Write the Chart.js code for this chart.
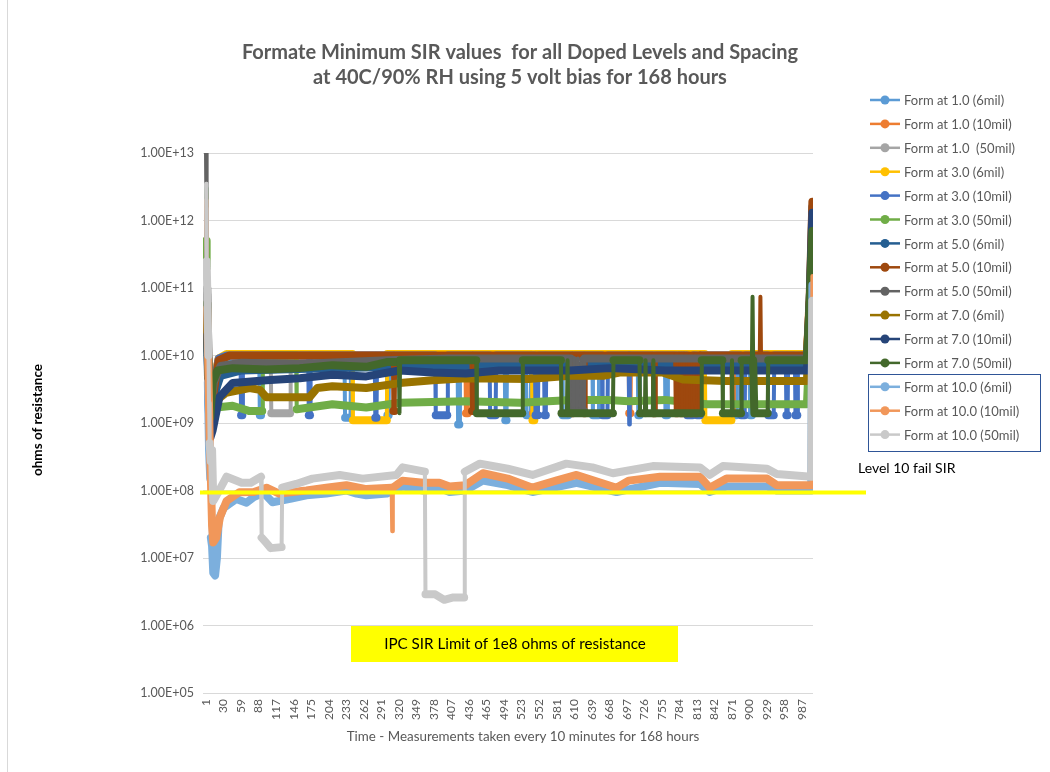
<!DOCTYPE html>
<html>
<head>
<meta charset="utf-8">
<script src="https://cdn.jsdelivr.net/npm/chart.js@4/dist/chart.umd.min.js"></script>
<style>
  body { margin: 0; background: #fff; }
  #wrap { width: 1050px; height: 772px; position: relative; }
</style>
</head>
<body>
<div id="wrap"><canvas id="sirChart" width="1050" height="772"></canvas></div>
<script>
// tick labels
const xTicks = [1, 30, 59, 88, 117, 146, 175, 204, 233, 262, 291, 320, 349, 378, 407, 436, 465, 494,
    523, 552, 581, 610, 639, 668, 697, 726, 755, 784, 813, 842, 871, 900, 929, 958, 987];
const yTicks = [1e5, 1e6, 1e7, 1e8, 1e9, 1e10, 1e11, 1e12, 1e13];
const ipcLimit = [1e8];

const seriesNames = ['Form at 1.0 (6mil)', 'Form at 1.0 (10mil)', 'Form at 1.0  (50mil)',
    'Form at 3.0 (6mil)', 'Form at 3.0 (10mil)', 'Form at 3.0 (50mil)',
    'Form at 5.0 (6mil)', 'Form at 5.0 (10mil)', 'Form at 5.0 (50mil)',
    'Form at 7.0 (6mil)', 'Form at 7.0 (10mil)', 'Form at 7.0 (50mil)',
    'Form at 10.0 (6mil)', 'Form at 10.0 (10mil)', 'Form at 10.0 (50mil)'];
const seriesColors = ['#5B9BD5', '#ED7D31', '#A5A5A5', '#FFC000', '#4472C4', '#70AD47',
    '#255E91', '#9E480E', '#636363', '#997300', '#264478', '#43682B',
    '#7CAFDD', '#F1975A', '#C9C9C9'];

const form1_6 = [[1, 1.3e12], [2, 2.5e11], [3, 2e10], [5, 3e9], [8, 1e9], [14, 3e9], [22, 8e9], [40, 9.5e9],
    [89, 9.5e9], [90, 1.3e9], [92, 1.3e9], [93, 9.5e9], [230, 9.5e9], [231, 1.2e9], [240, 1.2e9], [241, 9.5e9],
    [300, 9.5e9], [301, 1.3e9], [303, 1.3e9], [304, 9.5e9], [417, 9.5e9], [418, 9.5e8], [420, 9.5e8], [421, 9.5e9],
    [495, 9.5e9], [496, 1.1e9], [498, 1.1e9], [499, 9.5e9], [530, 9.5e9], [531, 1.3e9], [538, 1.3e9], [539, 9.5e9],
    [590, 9.5e9], [591, 1.3e9], [600, 1.3e9], [601, 9.5e9], [640, 9.5e9], [641, 1.3e9], [650, 1.3e9],
    [651, 9.5e9], [715, 9.5e9], [716, 1.3e9], [718, 1.3e9], [719, 9.5e9], [760, 9.5e9], [761, 1.3e9],
    [764, 1.3e9], [765, 9.5e9], [870, 9.5e9], [871, 1.3e9], [878, 1.3e9], [879, 9.5e9], [900, 9.5e9],
    [901, 1.3e9], [904, 1.3e9], [905, 9.5e9], [995, 9.5e9], [999, 5e10], [1004, 1.2e11]];
const form1_10 = [[1, 2e12], [2, 4e11], [3, 6e10], [5, 6e9], [8, 1.5e9], [14, 4e9], [22, 9e9], [40, 1e10],
    [430, 1e10], [431, 1.4e9], [434, 1.4e9], [435, 1e10], [541, 1e10], [542, 1.4e9], [545, 1.4e9], [546, 1e10],
    [700, 1e10], [701, 1.4e9], [703, 1.4e9], [704, 1e10], [870, 1e10], [871, 1.4e9], [873, 1.4e9], [874, 1e10],
    [995, 1e10], [999, 6e10], [1004, 9e10]];
const form1_50 = [[1, 3.5e12], [2, 5e11], [3, 8e10], [5, 8e9], [8, 1.2e9], [14, 3e9], [22, 8.5e9], [40, 9.8e9],
    [108, 9.8e9], [109, 1.4e9], [140, 1.4e9], [141, 9.8e9], [995, 9.8e9], [999, 5e10], [1004, 8e10]];
const form3_6 = [[1, 2.2e12], [2, 5e11], [3, 4e10], [5, 4e9], [8, 1.1e9], [14, 4e9], [22, 9e9], [35, 1.05e10],
    [243, 1.05e10], [244, 1.1e9], [300, 1.1e9], [301, 1.05e10], [540, 1.05e10], [541, 1.1e9], [544, 1.1e9],
    [545, 1.05e10], [826, 1.05e10], [827, 1.1e9], [870, 1.1e9], [871, 1.05e10], [995, 1.05e10], [999, 4e10],
    [1004, 6e10]];
const form3_10 = [[1, 1.8e12], [2, 3e11], [3, 3e10], [5, 3e9], [8, 9e8], [14, 3.5e9], [22, 9e9], [35, 1e10],
    [58, 1e10], [59, 1.3e9], [61, 1.3e9], [62, 1e10], [170, 1e10], [171, 1.3e9], [173, 1.3e9], [174, 1e10],
    [280, 1e10], [281, 1.2e9], [283, 1.2e9], [284, 1e10], [380, 1e10], [381, 1.3e9], [400, 1.3e9], [401, 1e10],
    [470, 1e10], [471, 1.3e9], [480, 1.3e9], [481, 1e10], [545, 1e10], [546, 1.3e9], [550, 1.3e9], [551, 1e10],
    [560, 1e10], [561, 1.3e9], [563, 1.3e9], [564, 1e10], [656, 1e10], [657, 1.3e9], [665, 1.3e9], [666, 1e10],
    [700, 1e10], [701, 9.5e8], [702, 1e10], [796, 1e10], [797, 1.3e9], [806, 1.3e9], [807, 1e10], [812, 1e10],
    [813, 1.3e9], [818, 1.3e9], [819, 1e10], [885, 1e10], [886, 1.3e9], [892, 1.3e9], [893, 1e10], [930, 1e10],
    [931, 1.3e9], [940, 1.3e9], [941, 1e10], [960, 1e10], [961, 1.3e9], [963, 1.3e9], [964, 1e10], [975, 1e10],
    [976, 1.3e9], [979, 1.3e9], [980, 1e10], [996, 1e10], [999, 5e10], [1004, 1.4e9]];
const form3_50 = [[1, 5e11], [2, 2e11], [3, 3e10], [5, 4e9], [8, 1.3e9], [12, 1.6e9], [18, 1.7e9], [45, 1.8e9],
    [73, 1.5e9], [94, 1.5e9], [95, 1e10], [150, 1e10], [151, 1.6e9], [210, 1.9e9], [266, 1.7e9], [321, 2e9],
    [431, 2.1e9], [520, 2e9], [606, 2.2e9], [666, 2.2e9], [700, 2.1e9], [760, 2.2e9], [830, 1.9e9],
    [995, 1.9e9], [999, 1.2e10], [1004, 1.2e10]];
const form5_6 = [[1, 3e12], [2, 4e11], [3, 5e10], [5, 4e9], [8, 8e8], [14, 2.5e9], [25, 5e9], [60, 6e9],
    [200, 6.5e9], [400, 7e9], [600, 7e9], [800, 7e9], [995, 7e9], [999, 4e10], [1004, 1.6e12]];
const form5_10 = [[1, 2.5e12], [2, 3e11], [3, 4e10], [5, 5e9], [8, 1e9], [14, 3e9], [22, 8.5e9], [40, 1e10],
    [310, 1e10], [311, 1.5e9], [313, 1.5e9], [314, 1e10], [440, 1e10], [441, 1.5e9], [443, 1.5e9], [444, 1e10],
    [605, 1e10], [606, 1.4e9], [608, 1.4e9], [609, 1e10], [625, 1e10], [626, 1.4e9], [628, 1.4e9], [629, 1e10],
    [740, 1e10], [741, 1.4e9], [744, 1.4e9], [745, 1e10], [777, 1e10], [778, 1.4e9], [781, 1.4e9], [782, 1e10],
    [785, 1e10], [786, 1.4e9], [789, 1.4e9], [790, 1e10], [793, 1e10], [794, 1.4e9], [797, 1.4e9], [798, 1e10],
    [801, 1e10], [802, 1.4e9], [805, 1.4e9], [806, 1e10], [809, 1e10], [810, 1.4e9], [813, 1.4e9], [814, 1e10],
    [817, 1e10], [818, 1.4e9], [819, 1e10],
    [917, 1e10], [918, 7.4e10], [919, 1e10], [995, 1e10], [999, 5e10], [1004, 1.9e12]];
const form5_50 = [[1, 1e13], [2, 6e11], [3, 1e11], [5, 1e10], [8, 1.5e9], [14, 4e9], [25, 7e9], [60, 7.8e9],
    [156, 7.5e9], [300, 8.5e9], [400, 9e9], [604, 9e9], [605, 1.5e9], [609, 1.5e9], [610, 9e9], [611, 1.5e9],
    [615, 1.5e9], [616, 9e9], [617, 1.5e9], [621, 1.5e9], [622, 9e9], [623, 1.5e9], [626, 1.5e9], [627, 9e9],
    [995, 9e9], [999, 4e10], [1004, 5e10]];
const form7_6 = [[1, 1.5e12], [2, 3e11], [3, 3e10], [5, 3e9], [8, 8e8], [14, 1.5e9], [22, 2.3e9], [34, 2.8e9],
    [73, 3.3e9], [90, 3.1e9], [101, 2.4e9], [172, 2.4e9], [185, 3.3e9], [210, 3.5e9], [266, 3.3e9], [321, 3.9e9],
    [376, 4.3e9], [431, 4.6e9], [534, 4.5e9], [603, 5e9], [658, 5e9], [685, 5.6e9], [756, 5.6e9], [790, 4.4e9],
    [860, 4.2e9], [995, 4.2e9], [999, 3e10], [1004, 3.5e10]];
const form7_10 = [[1, 2e12], [2, 2.5e11], [3, 2e10], [5, 2e9], [8, 6e8], [12, 7.8e8], [23, 2.4e9], [45, 3.9e9],
    [101, 4.3e9], [156, 4.6e9], [210, 5.2e9], [266, 4.9e9], [321, 6e9], [376, 5.6e9], [431, 5.4e9], [486, 6e9],
    [603, 6e9], [669, 6.5e9], [760, 6e9], [995, 6e9], [999, 4e10], [1004, 1.3e12]];
const form7_50 = [[1, 3e12], [2, 5.5e11], [3, 6e10], [5, 5e9], [8, 1.2e9], [12, 4e9], [20, 6e9], [45, 6.5e9],
    [101, 6.2e9], [156, 6.5e9], [210, 7.2e9], [266, 6.8e9], [300, 8e9], [320, 8e9], [321, 1.4e9], [322, 8.5e9],
    [448, 8.5e9], [449, 1.4e9], [524, 1.4e9], [525, 8.5e9], [588, 8.5e9], [589, 1.4e9], [598, 1.4e9],
    [599, 8.5e9], [600, 1.4e9], [674, 1.4e9], [675, 8.5e9], [718, 8.5e9], [719, 1.4e9], [727, 1.4e9],
    [728, 8.5e9], [729, 1.4e9], [740, 1.4e9], [741, 8.5e9], [742, 1.4e9], [820, 1.4e9], [821, 8.5e9],
    [855, 8.5e9], [856, 1.4e9], [870, 1.4e9], [871, 8.5e9], [872, 1.4e9], [886, 1.4e9], [887, 8.5e9],
    [904, 8.5e9], [905, 7.4e10], [906, 8.5e9], [908, 1.4e9], [930, 1.4e9], [931, 8.5e9], [995, 8.5e9],
    [999, 5e10], [1004, 7e11]];
const form10_6 = [[1, 1.5e12], [2, 2e11], [3, 3e10], [4, 4e9], [6, 4e8], [8, 1.5e8], [9, 2e7], [11, 1.5e7],
    [13, 6e6], [16, 5.5e6], [19, 1e7], [22, 3.7e7], [30, 5.5e7], [51, 7.5e7], [68, 6.6e7], [80, 8e7], [94, 9e7],
    [100, 8.5e7], [111, 6.7e7], [140, 7.5e7], [167, 8.5e7], [200, 9e7], [233, 1e8], [250, 9e7], [266, 8.5e7],
    [300, 9e7], [326, 1.15e8], [360, 1e8], [392, 1.05e8], [404, 9.5e7], [430, 1e8], [459, 1.4e8], [500, 1.2e8],
    [541, 9.5e7], [614, 1.3e8], [680, 9.5e7], [752, 1.3e8], [818, 1.25e8], [834, 9.5e7], [862, 1.15e8],
    [929, 1.15e8], [945, 1e8], [1002, 1e8], [1004, 1.1e11]];
const form10_10 = [[1, 2e12], [2, 3e11], [3, 5e10], [5, 5e9], [7, 6e8], [9, 1.5e8], [11, 3e7], [13, 1.7e7],
    [18, 2e7], [24, 4e7], [35, 7e7], [56, 9.4e7], [80, 9.5e7], [101, 1.1e8], [122, 9e7], [167, 1e8], [200, 1.1e8],
    [233, 1.2e8], [266, 1.05e8], [308, 1.1e8], [309, 2.5e7], [310, 1.1e8], [326, 1.4e8], [360, 1.3e8],
    [387, 1.3e8], [404, 1.15e8], [430, 1.2e8], [459, 1.8e8], [500, 1.5e8], [541, 1.1e8], [580, 1.4e8],
    [614, 1.7e8], [680, 1.1e8], [700, 1.4e8], [752, 1.6e8], [818, 1.6e8], [834, 1.1e8], [862, 1.5e8],
    [929, 1.5e8], [945, 1.2e8], [1003, 1.2e8], [1004, 1.5e11]];
const form10_50 = [[1, 3.5e12], [2, 2.5e11], [3, 1e11], [5, 1e10], [6, 2e9], [7, 5e8], [9, 2.7e8], [11, 4e8],
    [13, 7e7], [20, 9e7], [35, 1.6e8], [60, 1.3e8], [75, 1.3e8], [92, 1.6e8], [93, 2e7], [100, 1.7e7],
    [108, 1.4e7], [126, 1.45e7], [127, 1.1e8], [150, 1.25e8], [177, 1.5e8], [222, 1.7e8], [260, 1.5e8],
    [316, 1.7e8], [326, 2.2e8], [363, 1.9e8], [364, 2.9e6], [380, 2.9e6], [395, 2.4e6], [410, 2.6e6],
    [428, 2.6e6], [429, 1.9e8], [454, 2.5e8], [500, 2.1e8], [541, 1.7e8], [597, 2.5e8], [640, 2.2e8],
    [674, 1.8e8], [740, 2.3e8], [818, 2.2e8], [834, 1.7e8], [856, 2.3e8], [929, 2.1e8], [945, 1.75e8],
    [1002, 1.6e8], [1004, 6.5e10]];

const seriesData = [form1_6, form1_10, form1_50, form3_6, form3_10, form3_50, form5_6, form5_10, form5_50,
    form7_6, form7_10, form7_50, form10_6, form10_10, form10_50];

const FONT = 'Lato, "Open Sans", sans-serif';

function sci(v) {
    const e = Math.round(Math.log10(v));
    return '1.00E+' + (e < 10 ? '0' + e : e);
}

// the thick bands are the packed markers; a sudden jump between neighbours is just the thin line
function segWidth(ctx) {
    const a = ctx.p0.parsed, b = ctx.p1.parsed;
    const jump = Math.abs(Math.log10(b.y) - Math.log10(a.y));
    return (b.x - a.x <= 1 && jump > 0.5) ? 4 : 8;
}

const datasets = seriesData.map((pts, i) => ({
    label: seriesNames[i],
    data: pts.map(p => ({ x: p[0], y: p[1] })),
    borderColor: seriesColors[i],
    backgroundColor: seriesColors[i],
    borderWidth: 8,
    segment: { borderWidth: segWidth },
    pointRadius: 0,
    borderCapStyle: 'round',
    borderJoinStyle: 'round',
    tension: 0,
    order: -i
}));

// everything drawn around the plot: title, axis titles, limit line and box, legend
const decorPlugin = {
    id: 'decor',
    beforeDraw(chart) {
        const ctx = chart.ctx;
        ctx.save();
        ctx.fillStyle = '#fff';
        ctx.fillRect(0, 0, chart.width, chart.height);
        ctx.strokeStyle = '#D9D9D9';
        ctx.lineWidth = 1;
        ctx.beginPath();
        ctx.moveTo(7.5, 0);
        ctx.lineTo(7.5, chart.height);
        ctx.stroke();
        ctx.restore();
    },
    afterDatasetsDraw(chart) {
        const ctx = chart.ctx;
        const area = chart.chartArea;
        const yScale = chart.scales.y;
        ctx.save();
        // IPC limit line
        const ly = yScale.getPixelForValue(ipcLimit[0]) + 2;
        ctx.strokeStyle = '#FFFF00';
        ctx.lineWidth = 4;
        ctx.beginPath();
        ctx.moveTo(area.left - 3, ly);
        ctx.lineTo(866, ly);
        ctx.stroke();

        // title
        ctx.fillStyle = '#595959';
        ctx.textAlign = 'center';
        ctx.textBaseline = 'middle';
        ctx.font = 'bold 20px ' + FONT;
        ctx.fillText('Formate Minimum SIR values  for all Doped Levels and Spacing', 520, 53);
        ctx.fillText('at 40C/90% RH using 5 volt bias for 168 hours', 520, 78);

        // axis titles
        ctx.font = '13.4px ' + FONT;
        ctx.fillText('Time - Measurements taken every 10 minutes for 168 hours', 523, 737);
        ctx.save();
        ctx.translate(38, 420);
        ctx.rotate(-Math.PI / 2);
        ctx.fillStyle = '#000';
        ctx.font = 'bold 13.5px ' + FONT;
        ctx.fillText('ohms of resistance', 0, 0);
        ctx.restore();

        // IPC box
        ctx.fillStyle = '#FFFF00';
        ctx.fillRect(351, 626, 327, 36);
        ctx.fillStyle = '#000';
        ctx.font = '15.2px ' + FONT;
        ctx.fillText('IPC SIR Limit of 1e8 ohms of resistance', 515, 644);

        // legend
        ctx.textAlign = 'left';
        ctx.font = '13px ' + FONT;
        chart.data.datasets.forEach((ds, i) => {
            const y = 100 + i * 23.9;
            ctx.strokeStyle = ds.borderColor;
            ctx.lineWidth = 2.5;
            ctx.beginPath();
            ctx.moveTo(870, y);
            ctx.lineTo(900, y);
            ctx.stroke();
            ctx.fillStyle = ds.borderColor;
            ctx.beginPath();
            ctx.arc(885, y, 4.5, 0, Math.PI * 2);
            ctx.fill();
            ctx.fillStyle = '#595959';
            ctx.fillText(ds.label, 904, y + 1);
        });
        ctx.strokeStyle = '#2F5597';
        ctx.lineWidth = 1;
        ctx.strokeRect(868.5, 374.5, 172, 77);
        ctx.fillStyle = '#000';
        ctx.font = '14px ' + FONT;
        ctx.fillText('Level 10 fail SIR', 858, 468);
        ctx.restore();
    }
};

new Chart(document.getElementById('sirChart').getContext('2d'), {
    type: 'line',
    data: { datasets: datasets },
    plugins: [decorPlugin],
    options: {
        responsive: false,
        animation: false,
        layout: { padding: { left: 0, right: 237, top: 153, bottom: 0 } },
        plugins: {
            legend: { display: false },
            tooltip: { enabled: false },
            title: { display: false }
        },
        scales: {
            x: {
                type: 'linear',
                min: -4,
                max: 1005,
                afterFit: s => { s.height = 79; },
                afterBuildTicks: s => { s.ticks = xTicks.map(v => ({ value: v })); },
                grid: { display: false, drawTicks: false },
                border: { display: false },
                ticks: {
                    autoSkip: false,
                    minRotation: 90,
                    maxRotation: 90,
                    padding: 6,
                    color: '#595959',
                    font: { family: FONT, size: 12 },
                    callback: v => String(v)
                }
            },
            y: {
                type: 'logarithmic',
                min: 1e5,
                max: 1e13,
                afterFit: s => { s.width = 203; },
                afterBuildTicks: s => { s.ticks = yTicks.map(v => ({ value: v })); },
                grid: { color: '#D9D9D9', lineWidth: 1, drawTicks: false },
                border: { display: false },
                ticks: {
                    padding: 9,
                    color: '#595959',
                    font: { family: FONT, size: 12.5 },
                    callback: v => sci(v)
                }
            }
        }
    }
});
</script>
</body>
</html>
